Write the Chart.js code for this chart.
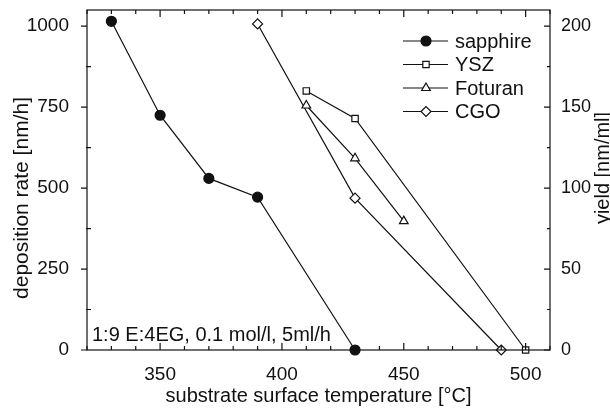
<!DOCTYPE html>
<html>
<head>
<meta charset="utf-8">
<script src="https://cdn.jsdelivr.net/npm/chart.js@4/dist/chart.umd.min.js"></script>
<style>
  html, body { margin: 0; padding: 0; background: #fff; }
  #wrap { width: 610px; height: 408px; }
</style>
</head>
<body>
<div id="wrap"><canvas id="c" width="610" height="408"></canvas></div>
<script>
// temperature [°C] and deposition rate [nm/h] per substrate
const tempSapphire = [330, 350, 370, 390, 430];
const rateSapphire = [1015, 725, 530, 472, 0];
const tempYSZ = [410, 430, 500];
const rateYSZ = [800, 715, 0];
const tempFoturan = [410, 430, 450];
const rateFoturan = [755, 592, 398];
const tempCGO = [390, 430, 490];
const rateCGO = [1007, 469, 0];

const xTicks = [350, 400, 450, 500];
const yTicks = [0, 250, 500, 750, 1000];
const y2Ticks = [0, 50, 100, 150, 200];
const note = '1:9 E:4EG, 0.1 mol/l, 5ml/h';

const FONT = "'Liberation Sans', Arial, Helvetica, sans-serif";
const INK = '#111';

Chart.defaults.font.family = FONT;
Chart.defaults.color = INK;

function pts(xs, ys) {
  return xs.map((x, i) => ({ x, y: ys[i] }));
}

function series(label, xs, ys, style, filled) {
  return {
    label,
    data: pts(xs, ys),
    borderColor: INK,
    borderWidth: 1.2,
    pointStyle: style,
    pointRadius: style === 'rect' ? 4.5 : 5,
    pointBorderWidth: 1.2,
    pointBorderColor: INK,
    pointBackgroundColor: filled ? INK : '#fff',
    tension: 0,
    clip: false
  };
}

// no extra room for the end labels, the box is fixed by hand
function noPad(s) {
  s.paddingTop = 0;
  s.paddingBottom = 0;
}

function vText(ctx, text, cx, cy) {
  ctx.save();
  ctx.translate(cx, cy);
  ctx.rotate(-Math.PI / 2);
  ctx.textAlign = 'center';
  ctx.textBaseline = 'middle';
  ctx.fillText(text, 0, 0);
  ctx.restore();
}

// frame, tick marks, y titles, note and legend
const decor = {
  id: 'decor',
  afterDraw(chart) {
    const { ctx, chartArea: a, scales } = chart;
    const x = scales.x, y = scales.y, y2 = scales.y2;
    ctx.save();
    ctx.strokeStyle = INK;
    ctx.lineWidth = 1.2;
    ctx.strokeRect(a.left, a.top, a.right - a.left, a.bottom - a.top);

    ctx.beginPath();
    for (let t = 320; t <= 510; t += 10) {
      const px = x.getPixelForValue(t);
      const len = t % 50 === 0 ? 7 : 4;
      ctx.moveTo(px, a.bottom); ctx.lineTo(px, a.bottom - len);
      ctx.moveTo(px, a.top); ctx.lineTo(px, a.top + len);
    }
    for (let v = 0; v <= 1000; v += 125) {
      const py = y.getPixelForValue(v);
      if (v % 250 === 0) { ctx.moveTo(a.left - 6, py); ctx.lineTo(a.left, py); }
      else { ctx.moveTo(a.left - 1, py); ctx.lineTo(a.left + 4, py); }
    }
    for (let v = 0; v <= 200; v += 25) {
      const py = y2.getPixelForValue(v);
      const len = v % 50 === 0 ? 6 : 3;
      ctx.moveTo(a.right, py); ctx.lineTo(a.right - len, py);
    }
    ctx.stroke();

    // axis titles on both sides, reading bottom to top
    ctx.fillStyle = INK;
    ctx.font = '21px ' + FONT;
    vText(ctx, 'deposition rate [nm/h]', 22, 198);
    ctx.font = '20px ' + FONT;
    vText(ctx, 'yield [nm/ml]', 603, 168);

    // note in the lower left
    ctx.textAlign = 'left';
    ctx.textBaseline = 'alphabetic';
    ctx.fillText(note, a.left + 5, a.bottom - 9);

    // legend: line through the marker, then the label
    chart.data.datasets.forEach((ds, i) => {
      const cy = 41 + i * 23.5;
      ctx.strokeStyle = INK;
      ctx.lineWidth = 1.2;
      ctx.beginPath();
      ctx.moveTo(403, cy); ctx.lineTo(448, cy);
      ctx.stroke();
      ctx.fillStyle = ds.pointBackgroundColor;
      Chart.helpers.drawPoint(ctx, {
        pointStyle: ds.pointStyle, radius: ds.pointRadius, borderWidth: 1.2
      }, 426, cy);
      ctx.fillStyle = INK;
      ctx.font = '20px ' + FONT;
      ctx.textBaseline = 'middle';
      ctx.textAlign = 'left';
      ctx.fillText(ds.label, 455, cy + 1);
    });
    ctx.restore();
  }
};

new Chart(document.getElementById('c'), {
  type: 'line',
  data: {
    datasets: [
      series('sapphire', tempSapphire, rateSapphire, 'circle', true),
      series('YSZ', tempYSZ, rateYSZ, 'rect', false),
      series('Foturan', tempFoturan, rateFoturan, 'triangle', false),
      series('CGO', tempCGO, rateCGO, 'rectRot', false)
    ]
  },
  options: {
    responsive: false,
    animation: false,
    layout: { padding: { top: 10, left: 0, right: 0, bottom: 0 } },
    plugins: { legend: { display: false }, tooltip: { enabled: false } },
    scales: {
      x: {
        type: 'linear',
        min: 320,
        max: 510,
        afterBuildTicks: s => { s.ticks = xTicks.map(v => ({ value: v })); },
        afterFit: s => { s.height = 58; s.paddingLeft = 0; s.paddingRight = 0; },
        grid: { display: false },
        border: { display: false },
        ticks: { font: { size: 19 }, padding: 5, maxRotation: 0, callback: v => String(v) },
        title: {
          display: true,
          text: 'substrate surface temperature [°C]',
          font: { size: 20 },
          padding: { top: 0, bottom: 0 }
        }
      },
      y: {
        position: 'left',
        min: 0,
        max: 1050,
        afterBuildTicks: s => { s.ticks = yTicks.map(v => ({ value: v })); },
        afterFit: s => { s.width = 87; noPad(s); },
        grid: { display: false },
        border: { display: false },
        ticks: { font: { size: 19 }, padding: 10, callback: v => String(v) }
      },
      y2: {
        position: 'right',
        min: 0,
        max: 210,
        afterBuildTicks: s => { s.ticks = y2Ticks.map(v => ({ value: v })); },
        afterFit: s => { s.width = 60; noPad(s); },
        grid: { display: false },
        border: { display: false },
        ticks: { font: { size: 18 }, padding: 3, callback: v => String(v) }
      }
    }
  },
  plugins: [decor]
});
</script>
</body>
</html>
